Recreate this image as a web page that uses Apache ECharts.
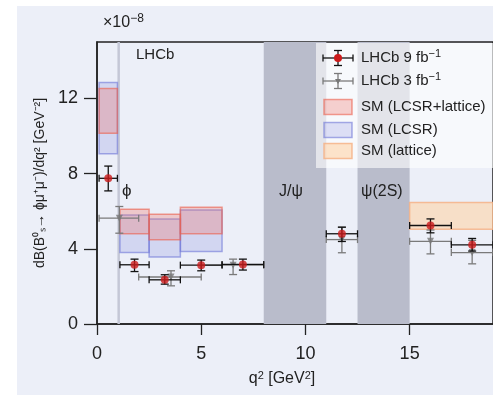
<!DOCTYPE html>
<html><head><meta charset="utf-8">
<script src="https://cdn.jsdelivr.net/npm/echarts@6/dist/echarts.min.js"></script>
<style>
html,body{margin:0;padding:0;background:#fff;}
#wrap{position:relative;width:493px;height:395px;overflow:hidden;background:#fff;}
#bg{position:absolute;left:17px;top:6px;right:0;bottom:0;background:#eceff8;}
#chart{position:absolute;left:0;top:0;width:493px;height:395px;}
</style></head>
<body><div id="wrap"><div id="bg"></div><div id="chart"></div></div>
<script>
// ---- data ----
// LHCb 9 fb^-1
const d9_x    = [0.54, 1.80, 3.25, 5.00, 7.00, 11.75, 16.00, 18.00];
const d9_xlo  = [0.10, 1.10, 2.50, 4.00, 6.00, 11.00, 15.00, 17.00];
const d9_xhi  = [0.98, 2.50, 4.00, 6.00, 8.00, 12.50, 17.00, 19.00];
const d9_y    = [7.75, 3.15, 2.35, 3.13, 3.17, 4.80, 5.24, 4.21];
const d9_ylo  = [7.08, 2.79, 2.12, 2.83, 2.87, 4.39, 4.85, 3.88];
const d9_yhi  = [8.40, 3.45, 2.62, 3.40, 3.45, 5.15, 5.59, 4.55];
// LHCb 3 fb^-1
const d3_x    = [1.07, 3.55, 6.53, 11.75, 16.00, 18.00];
const d3_xlo  = [0.10, 2.00, 5.00, 11.00, 15.00, 17.00];
const d3_xhi  = [2.00, 5.00, 8.00, 12.50, 17.00, 19.00];
const d3_y    = [5.63, 2.50, 3.13, 4.49, 4.40, 3.80];
const d3_ylo  = [4.83, 2.03, 2.63, 3.79, 3.73, 3.20];
const d3_yhi  = [6.25, 2.83, 3.45, 5.15, 5.00, 4.45];
// SM predictions (bins)
const sm_xlo      = [0.10, 1.10, 2.50, 4.00];
const sm_xhi      = [0.98, 2.50, 4.00, 6.00];
const lcsrLat_lo  = [10.14, 4.80, 4.48, 4.80];
const lcsrLat_hi  = [12.53, 6.11, 5.84, 6.21];
const lcsr_lo     = [9.06, 3.80, 3.56, 3.86];
const lcsr_hi     = [12.84, 5.80, 5.58, 6.07];
const lat_xlo = [15.0], lat_xhi = [19.0], lat_lo = [5.04], lat_hi = [6.46];
// vetoed resonance regions
const vetoBands = [[8.0, 11.0], [12.5, 15.0]];
const phiBand = [0.98, 1.10];
const xTicks = [0, 5, 10, 15];
const yTicks = [0, 4, 8, 12];

const FONT = 'Liberation Sans';
const chart = echarts.init(document.getElementById('chart'), null, {renderer:'canvas'});

function boxSeries(name, xlo, xhi, lo, hi, fill, stroke, z){
  return {
    type:'custom', name, z,
    data: xlo.map((v,i)=>[xlo[i], xhi[i], lo[i], hi[i]]),
    dimensions:['xlo','xhi','ylo','yhi'],
    encode:{x:[0,1], y:[2,3]},
    renderItem:(params, api)=>{
      const p0 = api.coord([api.value(0), api.value(3)]);
      const p1 = api.coord([api.value(1), api.value(2)]);
      return {type:'rect', shape:{x:p0[0], y:p0[1], width:p1[0]-p0[0], height:p1[1]-p0[1]},
        style:{fill, stroke, lineWidth:1.5}};
    }
  };
}
function errSeries(name, x, y, xlo, xhi, ylo, yhi, color, z){
  return {
    type:'custom', name, z,
    data: x.map((v,i)=>[x[i], y[i], xlo[i], xhi[i], ylo[i], yhi[i]]),
    encode:{x:[0,2,3], y:[1,4,5]},
    renderItem:(params, api)=>{
      const c = api.coord([api.value(0), api.value(1)]);
      const l = api.coord([api.value(2), api.value(1)]);
      const r = api.coord([api.value(3), api.value(1)]);
      const b = api.coord([api.value(0), api.value(4)]);
      const t = api.coord([api.value(0), api.value(5)]);
      const st = {stroke:color, lineWidth:1.3};
      const hc = 4, vc = 3.5;
      return {type:'group', children:[
        {type:'line', shape:{x1:l[0],y1:c[1],x2:r[0],y2:c[1]}, style:st},
        {type:'line', shape:{x1:l[0],y1:c[1]-vc,x2:l[0],y2:c[1]+vc}, style:st},
        {type:'line', shape:{x1:r[0],y1:c[1]-vc,x2:r[0],y2:c[1]+vc}, style:st},
        {type:'line', shape:{x1:c[0],y1:b[1],x2:c[0],y2:t[1]}, style:st},
        {type:'line', shape:{x1:c[0]-hc,y1:b[1],x2:c[0]+hc,y2:b[1]}, style:st},
        {type:'line', shape:{x1:c[0]-hc,y1:t[1],x2:c[0]+hc,y2:t[1]}, style:st}
      ]};
    }
  };
}

const C_RED_F = 'rgba(240,110,100,0.3)', C_RED_S = 'rgba(235,95,75,0.6)';
const C_BLU_F = 'rgba(110,115,215,0.2)', C_BLU_S = 'rgba(110,118,215,0.6)';
const C_ORG_F = 'rgba(255,212,168,0.6)', C_ORG_S = 'rgba(245,175,130,0.8)';

const legX = 323, txtX = 361, ZL = 30;
function legErr(cy, color, dot){
  const st = {stroke:color, lineWidth:1.3};
  const cx = legX + 15;
  const els = [
    {type:'line', z:ZL, shape:{x1:legX,y1:cy,x2:legX+30,y2:cy}, style:st},
    {type:'line', z:ZL, shape:{x1:legX,y1:cy-3.5,x2:legX,y2:cy+3.5}, style:st},
    {type:'line', z:ZL, shape:{x1:legX+30,y1:cy-3.5,x2:legX+30,y2:cy+3.5}, style:st},
    {type:'line', z:ZL, shape:{x1:cx,y1:cy-7.5,x2:cx,y2:cy+7.5}, style:st},
    {type:'line', z:ZL, shape:{x1:cx-4,y1:cy-7.5,x2:cx+4,y2:cy-7.5}, style:st},
    {type:'line', z:ZL, shape:{x1:cx-4,y1:cy+7.5,x2:cx+4,y2:cy+7.5}, style:st}
  ];
  if (dot) els.push({type:'circle', z:ZL+1, shape:{cx, cy, r:4}, style:{fill:'#cc1c1c'}});
  else els.push({type:'polygon', z:ZL+1, shape:{points:[[cx-3,cy-2],[cx+3,cy-2],[cx,cy+3]]}, style:{fill:'#777'}});
  return els;
}
function legText(cy, rich){
  return {type:'text', z:ZL, x:txtX, y:cy, style:{text:rich, x:0, y:0, verticalAlign:'middle', fontFamily:FONT, fontSize:15, fill:'#222',
    rich:{a:{fontFamily:FONT, fontSize:15, fill:'#222'}, s:{fontFamily:FONT, fontSize:11, fill:'#222', verticalAlign:'top', padding:[0,0,8,0]}}}};
}
function legBox(cy, f, s){
  return {type:'rect', z:ZL, shape:{x:legX+1, y:cy-7.5, width:28, height:15}, style:{fill:f, stroke:s, lineWidth:1.5}};
}

const option = {
  backgroundColor:'transparent',
  animation:false,
  grid:{left:97, right:-1, top:42, bottom:71, show:true, borderColor:'#222', borderWidth:1.5, backgroundColor:'transparent'},
  xAxis:{type:'value', min:0, max:19,
    axisLine:{show:true, onZero:false, lineStyle:{color:'#222', width:1.5}},
    axisTick:{show:true, length:11, customValues:xTicks, lineStyle:{color:'#222', width:1.3}},
    axisLabel:{customValues:xTicks, fontFamily:FONT, fontSize:18, color:'#222', margin:21},
    splitLine:{show:false}},
  yAxis:{type:'value', min:0, max:15,
    name:'dB(B⁰ₛ→ ϕμ⁺μ⁻)/dq² [GeV⁻²]', nameLocation:'middle', nameRotate:90, nameGap:50,
    nameTextStyle:{fontFamily:FONT, fontSize:14, color:'#222'},
    axisLine:{show:true, onZero:false, lineStyle:{color:'#222', width:1.5}},
    axisTick:{show:true, length:13, customValues:yTicks, lineStyle:{color:'#222', width:1.3}},
    axisLabel:{customValues:yTicks, fontFamily:FONT, fontSize:18, color:'#222', margin:19},
    splitLine:{show:false}},
  series:[
    {type:'line', data:[], z:1, silent:true,
      markArea:{silent:true, itemStyle:{color:'#b9bccb', opacity:1},
        data: vetoBands.map(b=>[{xAxis:b[0]},{xAxis:b[1]}]).concat([[{xAxis:phiBand[0], itemStyle:{color:'#c4c7d6'}},{xAxis:phiBand[1]}]])}},
    boxSeries('SM (LCSR)', sm_xlo, sm_xhi, lcsr_lo, lcsr_hi, C_BLU_F, C_BLU_S, 2),
    boxSeries('SM (LCSR+lattice)', sm_xlo, sm_xhi, lcsrLat_lo, lcsrLat_hi, C_RED_F, C_RED_S, 3),
    boxSeries('SM (lattice)', lat_xlo, lat_xhi, lat_lo, lat_hi, C_ORG_F, C_ORG_S, 3),
    errSeries('LHCb 3 fb-1 err', d3_x, d3_y, d3_xlo, d3_xhi, d3_ylo, d3_yhi, '#7a7a7a', 4),
    {type:'scatter', name:'LHCb 3 fb-1', z:5, symbol:'triangle', symbolRotate:180, symbolSize:7,
      itemStyle:{color:'#777'}, data:d3_x.map((v,i)=>[v, d3_y[i]])},
    errSeries('LHCb 9 fb-1 err', d9_x, d9_y, d9_xlo, d9_xhi, d9_ylo, d9_yhi, '#111', 6),
    {type:'scatter', name:'LHCb 9 fb-1', z:7, symbol:'circle', symbolSize:8,
      itemStyle:{color:'#cc1c1c'}, data:d9_x.map((v,i)=>[v, d9_y[i]])}
  ],
  graphic:[].concat(
    [{type:'rect', z:ZL-1, shape:{x:316, y:43, width:180, height:125}, style:{fill:'rgba(255,255,255,0.6)'}}],
    legErr(58, '#111', true),
    legErr(81, '#7a7a7a', false),
    [legBox(107, C_RED_F, C_RED_S), legBox(130, C_BLU_F, C_BLU_S), legBox(151, C_ORG_F, C_ORG_S)],
    [legText(58, '{a|LHCb 9 fb}{s|−1}'), legText(81, '{a|LHCb 3 fb}{s|−1}'),
     legText(107, '{a|SM (LCSR+lattice)}'), legText(130, '{a|SM (LCSR)}'), legText(151, '{a|SM (lattice)}')],
    [
    {type:'text', z:ZL, x:103, y:33, style:{text:'{a|×10}{s|−8}', verticalAlign:'bottom', fontFamily:FONT, fontSize:16, fill:'#222',
      rich:{a:{fontFamily:FONT, fontSize:16, fill:'#222'}, s:{fontFamily:FONT, fontSize:12, fill:'#222', verticalAlign:'top', padding:[0,0,8,0]}}}},
    {type:'text', z:ZL, x:136, y:55, style:{text:'LHCb', verticalAlign:'middle', fontFamily:FONT, fontSize:15, fill:'#222'}},
    {type:'text', z:ZL, x:122, y:191, style:{text:'ϕ', verticalAlign:'middle', fontFamily:FONT, fontSize:17, fill:'#222'}},
    {type:'text', z:ZL, x:279, y:192, style:{text:'J/ψ', verticalAlign:'middle', fontFamily:FONT, fontSize:16, fill:'#222'}},
    {type:'text', z:ZL, x:361, y:192, style:{text:'ψ(2S)', verticalAlign:'middle', fontFamily:FONT, fontSize:16, fill:'#222'}},
    {type:'text', z:ZL, x:282, y:379, style:{text:'{a|q}{s|2}{a| [GeV}{s|2}{a|]}', align:'center', verticalAlign:'middle', fontFamily:FONT, fontSize:16, fill:'#222',
      rich:{a:{fontFamily:FONT, fontSize:16, fill:'#222'}, s:{fontFamily:FONT, fontSize:11, fill:'#222', verticalAlign:'top', padding:[0,0,7,0]}}}}
  ])
};
chart.setOption(option);
</script></body></html>
